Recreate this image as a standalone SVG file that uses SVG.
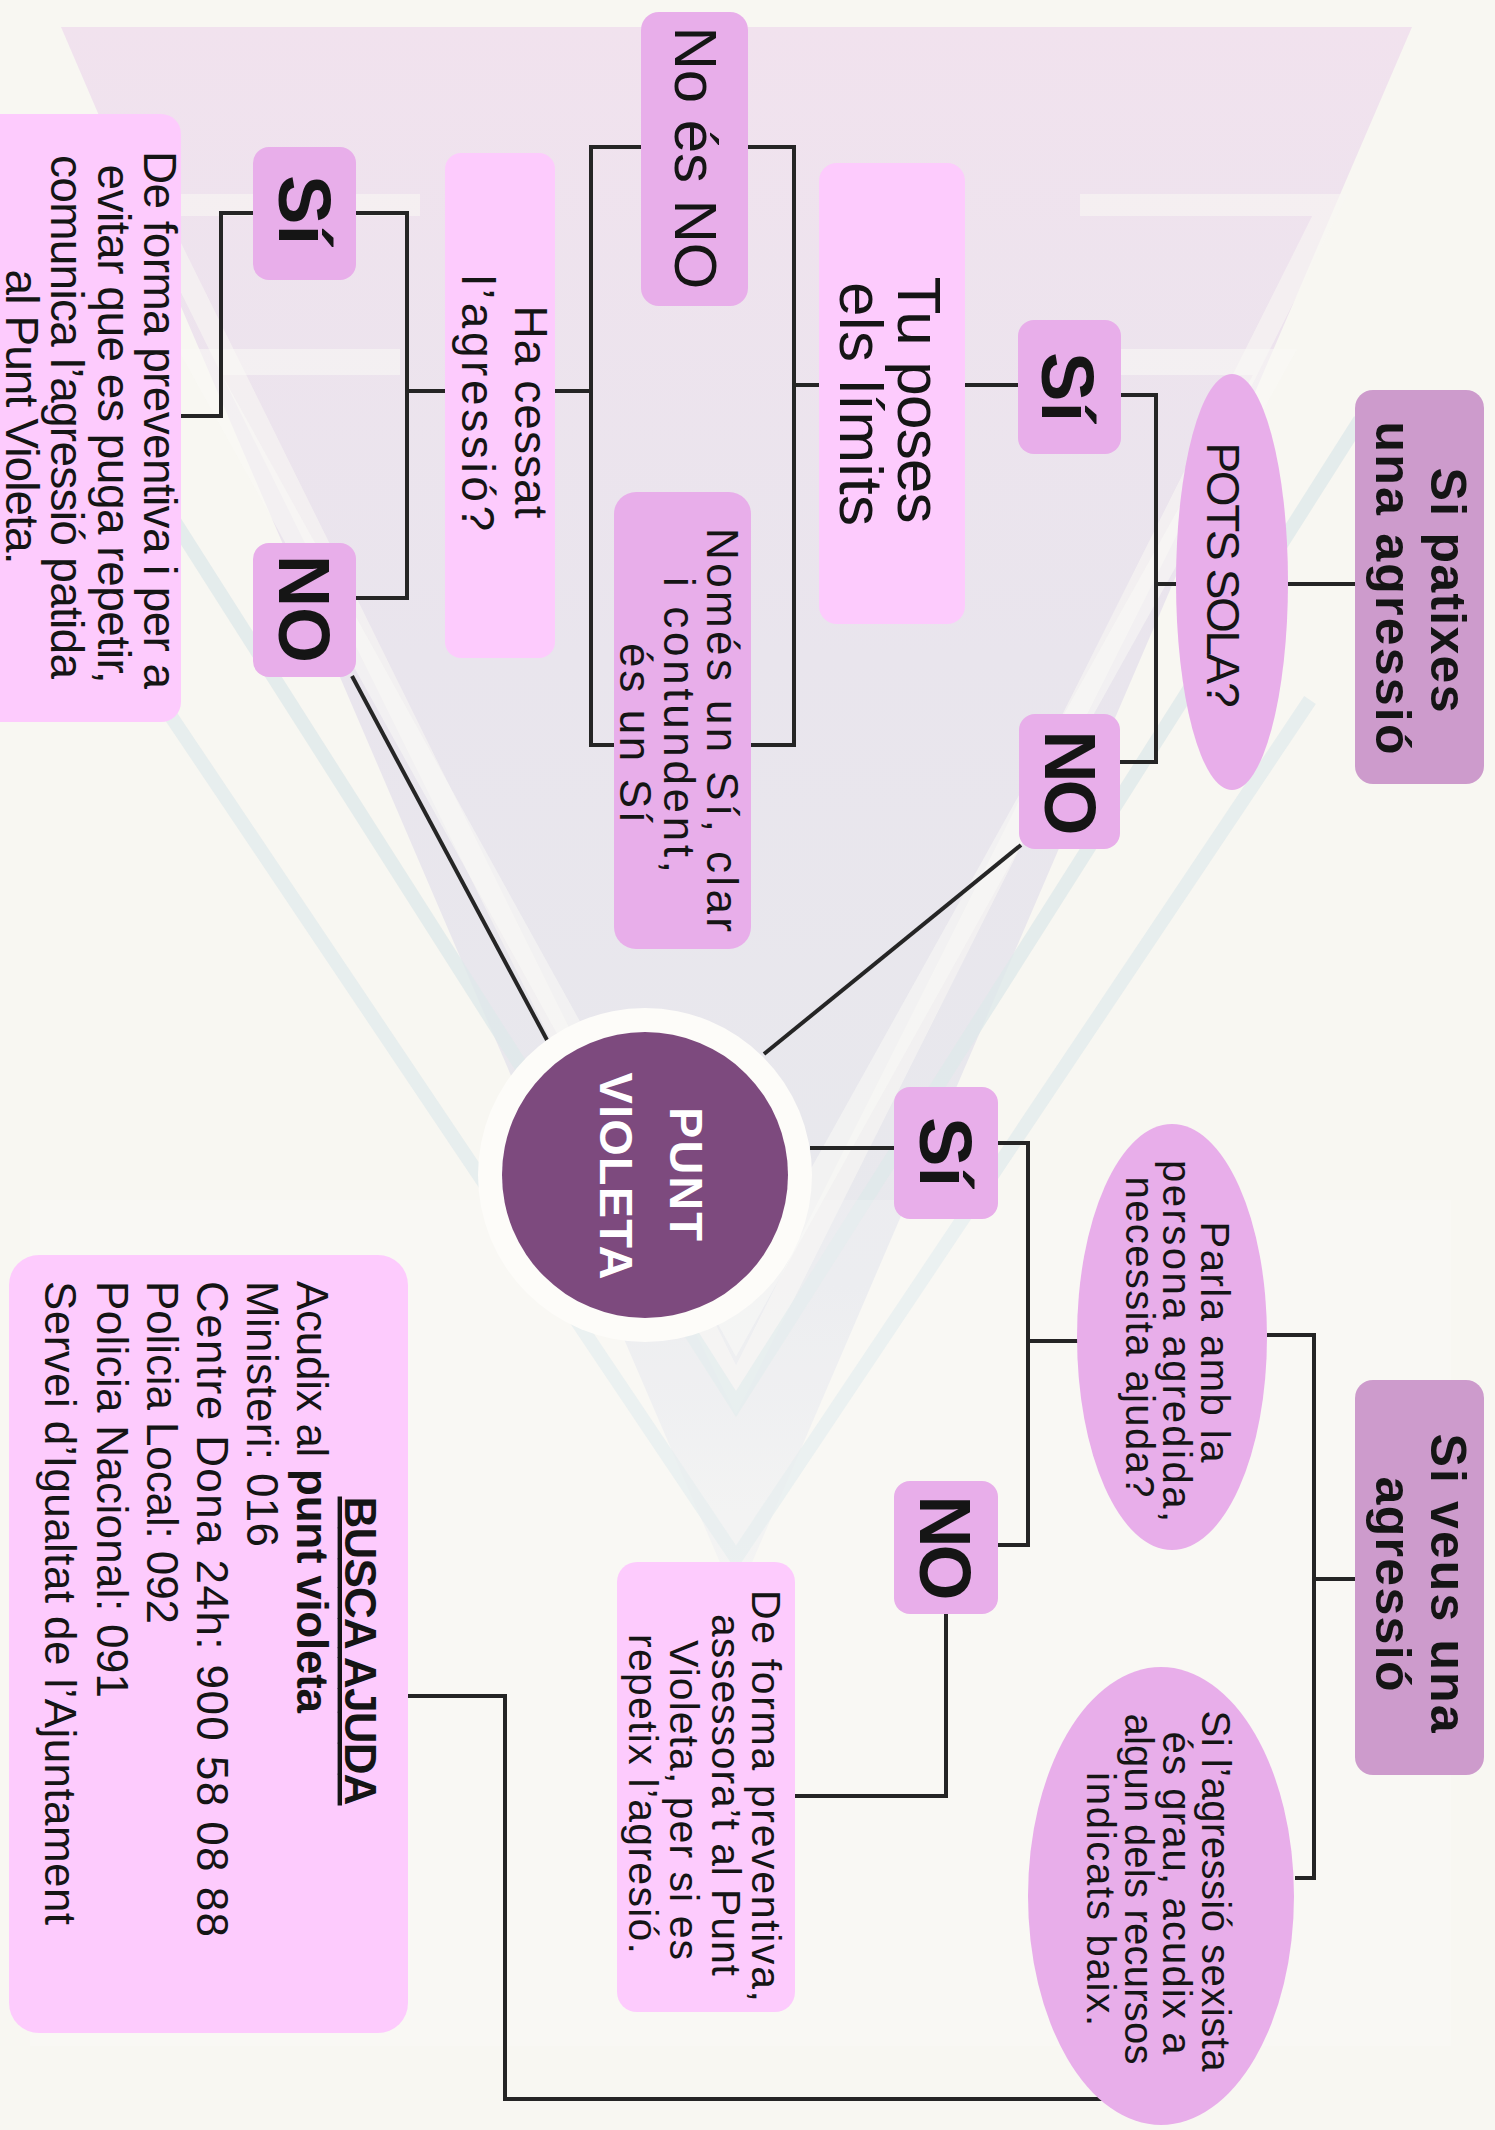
<svg xmlns="http://www.w3.org/2000/svg" width="1495" height="2130" viewBox="0 0 1495 2130">
<defs>
<linearGradient id="triG" x1="0" y1="0" x2="0" y2="1">
<stop offset="0" stop-color="#f1e2ee"/>
<stop offset="0.4" stop-color="#e9e5ed"/>
<stop offset="0.8" stop-color="#e8e9ed"/>
<stop offset="1" stop-color="#f3f3f1"/>
</linearGradient>
<style>
.t{font-family:"Liberation Sans",Arial,sans-serif;fill:#151515}
.b{font-weight:700}
.c{stroke:#252525;stroke-width:4;fill:none;stroke-linejoin:miter}
.hdr{fill:#cd9bcc}
.mid{fill:#e8aeea}
.lt{fill:#fdcbfd}
.band{fill:none;stroke-linejoin:miter}
</style>
</defs>
<rect width="1495" height="2130" fill="#f8f7f2"/>
<g id="background">
<polygon points="61,27 1412,27 736,1600" fill="url(#triG)"/>
<path class="band" d="M420,205 H150 L736,1390 L1330,205 H1080" stroke="#f8f6f3" stroke-width="22" opacity="0.6"/>
<path class="band" d="M400,362 H200 L736,1330 L1275,362 H1060" stroke="#faf9f6" stroke-width="26" opacity="0.55"/>
<polyline class="band" points="110,420 736,1404 1360,420" stroke="#dfe8ea" stroke-width="14" opacity="0.8"/>
<polyline class="band" points="160,700 736,1558 1310,700" stroke="#e2ebec" stroke-width="14" opacity="0.8"/>
<rect x="30" y="1200" width="1421" height="846" fill="#ffffff" opacity="0.2"/>
</g>
<g id="connectors">
<path class="c" d="M1355,584 H1288"/>
<path class="c" d="M1176,584 H1156 M1121,395 H1156 V762 H1120"/>
<path class="c" d="M1018,385 H965"/>
<path class="c" d="M819,385 H794 M748,147 H794 V745 H751"/>
<path class="c" d="M641,147 H591 V745 H614 M591,391 H555"/>
<path class="c" d="M445,391 H407 M356,213 H407 V598 H356"/>
<path class="c" d="M253,213 H221 V416 H181"/>
<path class="c" d="M352,676 L547,1040"/>
<path class="c" d="M1021,845 L764,1054"/>
<path class="c" d="M810,1148 H894"/>
<path class="c" d="M998,1143 H1028 V1545 H998 M1028,1341 H1078"/>
<path class="c" d="M1267,1335 H1314 V1878 H1295 M1314,1579 H1355"/>
<path class="c" d="M946,1614 V1796 H795"/>
<path class="c" d="M1102,2099 H505 V1696 H408"/>
</g>
<g id="n-si-patixes">
<rect class="hdr" x="1355" y="390" width="129" height="394" rx="18"/>
<text class="t b" font-size="50" text-anchor="middle" transform="translate(1431,590) rotate(90)" textLength="245">Si patixes</text>
<text class="t b" font-size="50" text-anchor="middle" transform="translate(1376,588) rotate(90)" textLength="333">una agressió</text>
</g>
<g id="n-pots-sola">
<ellipse class="mid" cx="1232" cy="582" rx="56" ry="208"/>
<text class="t" font-size="46" text-anchor="middle" transform="translate(1207,575) rotate(90)" textLength="265">POTS SOLA?</text>
</g>
<g id="n-si-1">
<rect class="mid" x="1018" y="320" width="103" height="134" rx="16"/>
<text class="t b" font-size="74" text-anchor="middle" transform="translate(1042,387) rotate(90)">Sí</text>
</g>
<g id="n-no-1">
<rect class="mid" x="1019" y="714" width="101" height="135" rx="16"/>
<text class="t b" font-size="72" text-anchor="middle" transform="translate(1045,783) rotate(90)" textLength="105">NO</text>
</g>
<g id="n-tu-poses">
<rect class="lt" x="819" y="163" width="146" height="461" rx="18"/>
<text class="t" font-size="62" text-anchor="middle" transform="translate(898,400) rotate(90)" textLength="247">Tu poses</text>
<text class="t" font-size="62" text-anchor="middle" transform="translate(840,404) rotate(90)" textLength="244">els límits</text>
</g>
<g id="n-no-es-no">
<rect class="mid" x="641" y="12" width="107" height="294" rx="18"/>
<text class="t" font-size="60" text-anchor="middle" transform="translate(675,158) rotate(90)" textLength="263">No és NO</text>
</g>
<g id="n-nomes">
<rect class="mid" x="614" y="492" width="137" height="457" rx="22"/>
<text class="t" font-size="44" text-anchor="middle" transform="translate(707,730) rotate(90)" textLength="404">Només un Sí, clar</text>
<text class="t" font-size="44" text-anchor="middle" transform="translate(664,725) rotate(90)" textLength="296">i contundent,</text>
<text class="t" font-size="44" text-anchor="middle" transform="translate(620,733) rotate(90)" textLength="180">és un Sí</text>
</g>
<g id="n-ha-cessat">
<rect class="lt" x="445" y="153" width="110" height="505" rx="16"/>
<text class="t" font-size="46" text-anchor="middle" transform="translate(515,412) rotate(90)" textLength="213">Ha cessat</text>
<text class="t" font-size="46" text-anchor="middle" transform="translate(462,403) rotate(90)" textLength="256">l’agressió?</text>
</g>
<g id="n-si-2">
<rect class="mid" x="253" y="147" width="103" height="133" rx="16"/>
<text class="t b" font-size="74" text-anchor="middle" transform="translate(279,210) rotate(90)">Sí</text>
</g>
<g id="n-no-2">
<rect class="mid" x="253" y="543" width="103" height="134" rx="16"/>
<text class="t b" font-size="72" text-anchor="middle" transform="translate(279,609) rotate(90)" textLength="108">NO</text>
</g>
<g id="n-de-forma-1">
<rect class="lt" x="-30" y="114" width="211" height="608" rx="20"/>
<text class="t" font-size="46" text-anchor="middle" transform="translate(144,420) rotate(90)" textLength="538">De forma preventiva i per a</text>
<text class="t" font-size="46" text-anchor="middle" transform="translate(98,424) rotate(90)" textLength="519">evitar que es puga repetir,</text>
<text class="t" font-size="46" text-anchor="middle" transform="translate(51,417) rotate(90)" textLength="524">comunica l’agressió patida</text>
<text class="t" font-size="46" text-anchor="middle" transform="translate(6,417) rotate(90)" textLength="295">al Punt Violeta.</text>
</g>
<g id="n-punt-violeta">
<circle cx="645" cy="1175" r="167" fill="#fdfcf9"/>
<circle cx="645" cy="1175" r="143" fill="#7d4a7e"/>
<text class="t b" font-size="47" style="fill:#ffffff" text-anchor="middle" transform="translate(670,1174) rotate(90)" textLength="134">PUNT</text>
<text class="t b" font-size="47" style="fill:#ffffff" text-anchor="middle" transform="translate(600,1176) rotate(90)" textLength="207">VIOLETA</text>
</g>
<g id="n-si-3">
<rect class="mid" x="894" y="1087" width="104" height="132" rx="16"/>
<text class="t b" font-size="74" text-anchor="middle" transform="translate(920,1152) rotate(90)">Sí</text>
</g>
<g id="n-no-3">
<rect class="mid" x="894" y="1481" width="104" height="133" rx="16"/>
<text class="t b" font-size="72" text-anchor="middle" transform="translate(920,1548) rotate(90)" textLength="105">NO</text>
</g>
<g id="n-parla">
<ellipse class="mid" cx="1172" cy="1337" rx="95" ry="213"/>
<text class="t" font-size="40" text-anchor="middle" transform="translate(1201,1342) rotate(90)" textLength="241">Parla amb la</text>
<text class="t" font-size="40" text-anchor="middle" transform="translate(1163,1341) rotate(90)" textLength="362">persona agredida,</text>
<text class="t" font-size="40" text-anchor="middle" transform="translate(1126,1337) rotate(90)" textLength="321">necessita ajuda?</text>
</g>
<g id="n-si-veus">
<rect class="hdr" x="1355" y="1380" width="129" height="395" rx="18"/>
<text class="t b" font-size="50" text-anchor="middle" transform="translate(1431,1583) rotate(90)" textLength="299">Si veus una</text>
<text class="t b" font-size="50" text-anchor="middle" transform="translate(1376,1584) rotate(90)" textLength="215">agressió</text>
</g>
<g id="n-si-lagressio">
<ellipse class="mid" cx="1161" cy="1896" rx="133" ry="229"/>
<text class="t" font-size="40" text-anchor="middle" transform="translate(1202,1891) rotate(90)" textLength="361">Si l’agressió sexista</text>
<text class="t" font-size="40" text-anchor="middle" transform="translate(1163,1893) rotate(90)" textLength="323">és grau, acudix a</text>
<text class="t" font-size="40" text-anchor="middle" transform="translate(1125,1889) rotate(90)" textLength="351">algun dels recursos</text>
<text class="t" font-size="40" text-anchor="middle" transform="translate(1087,1899) rotate(90)" textLength="254">indicats baix.</text>
</g>
<g id="n-de-forma-2">
<rect class="lt" x="617" y="1562" width="178" height="450" rx="20"/>
<text class="t" font-size="41" text-anchor="middle" transform="translate(752,1796) rotate(90)" textLength="412">De forma preventiva,</text>
<text class="t" font-size="41" text-anchor="middle" transform="translate(712,1795) rotate(90)" textLength="362">assessora’t al Punt</text>
<text class="t" font-size="41" text-anchor="middle" transform="translate(670,1800) rotate(90)" textLength="320">Violeta, per si es</text>
<text class="t" font-size="41" text-anchor="middle" transform="translate(629,1794) rotate(90)" textLength="320">repetix l’agresió.</text>
</g>
<g id="n-busca-ajuda">
<rect class="lt" x="9" y="1255" width="399" height="778" rx="30"/>
<text class="t b" font-size="44" text-anchor="middle" text-decoration="underline" transform="translate(345,1651) rotate(90)" textLength="309">BUSCA AJUDA</text>
<text class="t" font-size="44" transform="translate(297,1281) rotate(90)" textLength="432">Acudix al <tspan class="b">punt violeta</tspan></text>
<text class="t" font-size="44" transform="translate(247,1281) rotate(90)" textLength="266">Ministeri: 016</text>
<text class="t" font-size="44" transform="translate(197,1281) rotate(90)" textLength="656">Centre Dona 24h: 900 58 08 88</text>
<text class="t" font-size="44" transform="translate(147,1281) rotate(90)" textLength="343">Policia Local: 092</text>
<text class="t" font-size="44" transform="translate(97,1281) rotate(90)" textLength="417">Policia Nacional: 091</text>
<text class="t" font-size="44" transform="translate(45,1281) rotate(90)" textLength="644">Servei d’Igualtat de l’Ajuntament</text>
</g>
</svg>
